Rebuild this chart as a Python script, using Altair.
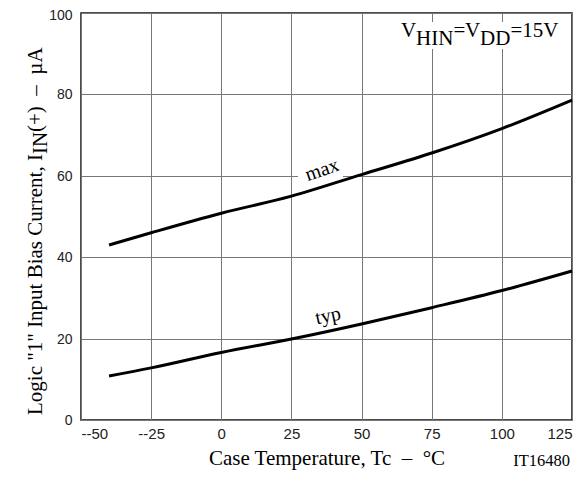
import altair as alt
import pandas as pd

# ---- data ----
temps = [-40, -25, 0, 25, 50, 75, 100, 125]
max_vals = [43.0, 46.0, 50.8, 55.0, 60.3, 65.6, 71.6, 78.6]
typ_vals = [10.8, 12.8, 16.6, 19.9, 23.6, 27.6, 31.8, 36.6]
x_ticks = [-50, -25, 0, 25, 50, 75, 100, 125]
y_ticks = [0, 20, 40, 60, 80, 100]

df = pd.DataFrame({
    "t": temps + temps,
    "i": max_vals + typ_vals,
    "s": ["max"] * len(temps) + ["typ"] * len(temps),
})

W, H = 491, 407
SERIF = "Liberation Serif"
SANS = "Liberation Sans"

xs = alt.Scale(domain=[-50, 125], nice=False, zero=False)
ys = alt.Scale(domain=[0, 100], nice=False)

lines = alt.Chart(df).mark_line(color="black", strokeWidth=3, interpolate="monotone").encode(
    x=alt.X("t:Q", scale=xs, axis=alt.Axis(
        values=x_ticks,
        labelExpr="datum.value < 0 ? '--' + abs(datum.value) : datum.label",
        labelPadding=6, labelFontSize=15,
        title="Case Temperature, Tc\u00a0\u00a0–\u00a0\u00a0°C",
        titleFont=SERIF, titleFontSize=21, titleFontWeight="normal", titleColor="black",
        titleBaseline="alphabetic", titleY=44,
    )),
    y=alt.Y("i:Q", scale=ys, title=None,
            axis=alt.Axis(values=y_ticks, labelPadding=9, labelFontSize=14,
                          labelOffset={"condition": {"test": "datum.value == 100", "value": 2.5}, "value": 0.5})),
    detail="s:N",
)

# white boxes that interrupt the grid behind annotations
boxes = pd.DataFrame({"x": [312, 217], "x2": [486, 262], "y": [9, 160], "y2": [36, 164]})
box_layer = alt.Chart(boxes).mark_rect(color="white").encode(
    x=alt.X("x:Q", scale=None), x2="x2:Q",
    y=alt.Y("y:Q", scale=None), y2="y2:Q",
)

# V_HIN = V_DD = 15V label (pieces, subscripts lowered)
vlab = pd.DataFrame({
    "txt": ["V", "HIN", "=", "V", "DD", "=15V"],
    "x": [320, 335, 372.5, 384, 399, 429.5],
    "y": [24, 32, 24, 24, 32, 24],
})
vlab_layer = alt.Chart(vlab).mark_text(font=SERIF, fontSize=21, align="left", baseline="alphabetic", color="black").encode(
    x=alt.X("x:Q", scale=None), y=alt.Y("y:Q", scale=None), text="txt:N")

# curve labels
curve_lab = pd.DataFrame({"txt": ["max", "typ"], "x": [241, 247], "y": [157, 303], "a": [341, 348]})
curve_layer = alt.Chart(curve_lab).mark_text(font=SERIF, fontSize=20, align="center", baseline="middle", color="black").encode(
    x=alt.X("x:Q", scale=None), y=alt.Y("y:Q", scale=None), text="txt:N",
    angle=alt.Angle("a:Q", scale=None))

# y axis title in pieces (subscript IN)
ytitle = pd.DataFrame({
    "txt": ['Logic "1" Input Bias Current, I', "IN", "(+)\u00a0\u00a0–\u00a0\u00a0µA"],
    "x": [-39, -34, -39],
    "y": [402, 141, 119],
})
ytitle_layer = alt.Chart(ytitle).mark_text(font=SERIF, fontSize=21, align="left", baseline="alphabetic", angle=270, color="black").encode(
    x=alt.X("x:Q", scale=None), y=alt.Y("y:Q", scale=None), text="txt:N")

# figure code
code = pd.DataFrame({"txt": ["IT16480"], "x": [489], "y": [453]})
code_layer = alt.Chart(code).mark_text(font=SERIF, fontSize=16.5, align="right", baseline="alphabetic", color="black").encode(
    x=alt.X("x:Q", scale=None), y=alt.Y("y:Q", scale=None), text="txt:N")

chart = alt.layer(box_layer, lines, vlab_layer, curve_layer, ytitle_layer, code_layer).properties(
    width=W, height=H,
    autosize=alt.AutoSizeParams(type="none"),
    padding={"left": 73, "top": 5, "right": 7, "bottom": 50},
).configure_view(
    stroke="#111", strokeWidth=1.5,
).configure_axis(
    grid=True, gridColor="#777", gridWidth=1,
    domain=False, ticks=False,
    labelFont=SANS, labelColor="#222",
).configure_text(
    limit=0
)

chart.save("out.html", embed_options={"renderer": "svg", "actions": False})
